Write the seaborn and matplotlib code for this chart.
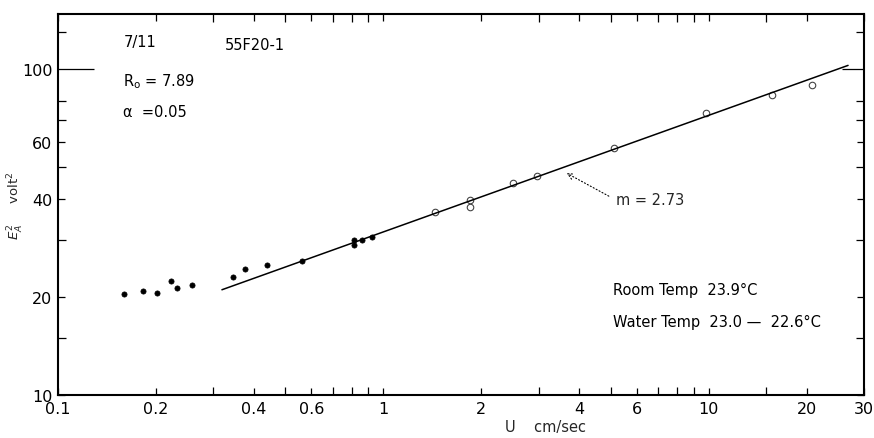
import pandas as pd
import matplotlib
matplotlib.use("Agg")
import matplotlib.pyplot as plt
import seaborn as sns

# low-velocity points (filled dots)
u_filled = [0.159, 0.182, 0.202, 0.223, 0.232, 0.259, 0.345, 0.375, 0.438,
            0.561, 0.815, 0.815, 0.857, 0.925]
e_filled = [20.5, 20.9, 20.6, 22.4, 21.3, 21.8, 23.0, 24.3, 25.1,
            25.8, 29.9, 28.9, 29.9, 30.6]

# higher-velocity points (open circles)
u_open = [1.44, 1.84, 1.84, 2.51, 2.96, 5.12, 9.84, 15.7, 20.8]
e_open = [36.4, 37.8, 39.6, 44.8, 46.9, 57.4, 73.4, 83.7, 89.5]

# fitted straight line, m = 2.73
fit_u = [0.319, 26.8]
fit_e = [21.05, 102.9]

x_major = [0.1, 0.2, 0.4, 0.6, 1, 2, 4, 6, 10, 20, 30]
x_labels = ["0.1", "0.2", "0.4", "0.6", "1", "2", "4", "6", "10", "20", "30"]
x_minor = [0.3, 0.5, 0.7, 0.8, 0.9, 3, 5, 7, 8, 9, 15]
y_major = [10, 20, 40, 60, 100]
y_labels = ["10", "20", "40", "60", "100"]
y_minor = [15, 30, 50, 70, 80, 130]

filled_df = pd.DataFrame({"U": u_filled, "E2": e_filled})
open_df = pd.DataFrame({"U": u_open, "E2": e_open})
fit_df = pd.DataFrame({"U": fit_u, "E2": fit_e})

sns.set_style("ticks")
plt.rcParams["font.family"] = ["DejaVu Sans"]

fig = plt.figure(figsize=(8.74, 4.39), dpi=100)
ax = fig.add_axes([58 / 874, 43 / 439, 806 / 874, 381 / 439])

sns.lineplot(data=fit_df, x="U", y="E2", color="black", linewidth=1.1, ax=ax)
sns.scatterplot(data=filled_df, x="U", y="E2", color="black", s=14,
                edgecolor="black", linewidth=0.5, ax=ax)
sns.scatterplot(data=open_df, x="U", y="E2", marker="o", s=22,
                facecolor="white", edgecolor="#444444", linewidth=0.8, ax=ax)

ax.set_xscale("log")
ax.set_yscale("log")
ax.set_xlim(0.1, 30)
ax.set_ylim(10, 148)

ax.set_xticks(x_major)
ax.set_xticklabels(x_labels)
ax.set_xticks(x_minor, minor=True)
ax.set_yticks(y_major)
ax.set_yticklabels(y_labels)
ax.set_yticks(y_minor, minor=True)
ax.xaxis.set_minor_formatter(matplotlib.ticker.NullFormatter())
ax.yaxis.set_minor_formatter(matplotlib.ticker.NullFormatter())

ax.tick_params(axis="both", which="both", direction="in", top=True, right=True,
               colors="black", labelsize=11.5, width=0.9)
ax.tick_params(axis="both", which="major", length=5, pad=4)
ax.tick_params(axis="both", which="minor", length=6)

# long index mark at 100 on both sides
for t in ax.yaxis.get_major_ticks():
    if t.get_loc() == 100:
        t.tick1line.set_markersize(26)
        t.tick2line.set_markersize(16)

for sp in ax.spines.values():
    sp.set_color("black")
    sp.set_linewidth(1.5)

ax.set_xlabel("U    cm/sec", fontsize=10.5)
ax.xaxis.set_label_coords(0.605, -0.062)
ax.set_ylabel("$E_A^2$     volt$^2$", fontsize=9.5)
ax.yaxis.set_label_coords(-0.04, 0.5)

tkw = dict(transform=ax.transAxes, fontsize=10.5, color="black")
ax.text(0.102, 0.928, "7/11", ha="center", va="center", **tkw)
ax.text(0.244, 0.921, "55F20-1", ha="center", va="center", **tkw)
ax.text(0.081, 0.824, "R$_\\mathregular{o}$ = 7.89", ha="left", va="center", **tkw)
ax.text(0.081, 0.745, "α  =0.05", ha="left", va="center", **tkw)
ax.text(0.688, 0.276, "Room Temp  23.9°C", ha="left", va="center", **tkw)
ax.text(0.688, 0.192, "Water Temp  23.0 —  22.6°C", ha="left", va="center", **tkw)

ax.annotate("m = 2.73", xy=(3.66, 48.0), xytext=(0.692, 0.512),
            textcoords="axes fraction", fontsize=10.5, va="center", ha="left",
            arrowprops=dict(arrowstyle="->", color="black", linewidth=0.8,
                            linestyle=(0, (1, 2)), shrinkA=3, shrinkB=0,
                            relpos=(0, 0.5)))

fig.savefig("out.png", dpi=100)
